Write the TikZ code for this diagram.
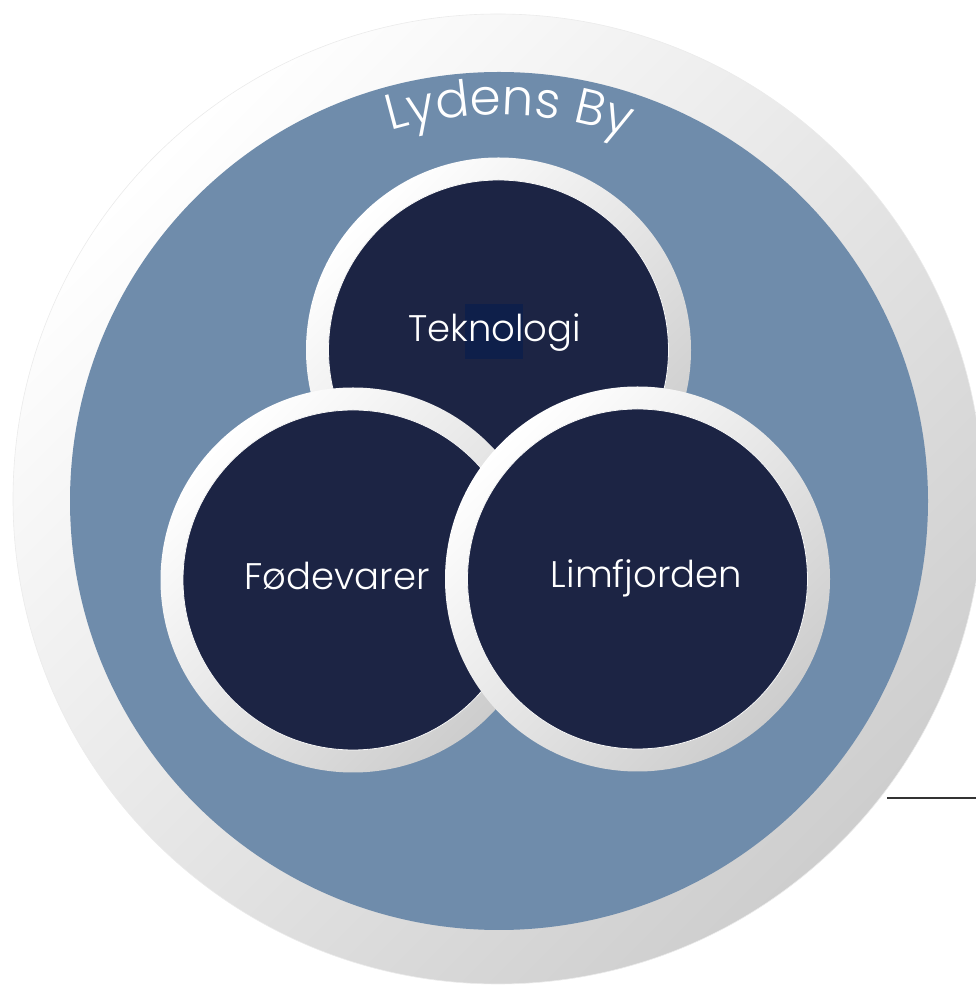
\documentclass[tikz,border=0pt]{standalone}
\usepackage{fontspec}
\newfontfamily\pop{Poppins Light}
\usetikzlibrary{decorations.text}
\definecolor{cityblue}{RGB}{111,140,171}
\definecolor{navy}{RGB}{28,36,68}
\definecolor{hilite}{RGB}{14,31,74}
\definecolor{ringgrey}{RGB}{205,205,205}
\definecolor{outergrey}{RGB}{206,206,206}
\begin{document}
\begin{tikzpicture}[x=1pt,y=1pt,
  ringnode/.style={circle, inner sep=0pt, minimum size=385pt, top color=white, bottom color=ringgrey, shading angle=45},
  corenode/.style={circle, inner sep=0pt, minimum size=340pt, fill=navy, draw=white!85!ringgrey, line width=0.8pt},
  lbl/.style={text=white, font=\pop\fontsize{37}{37}\selectfont, anchor=base, inner sep=0pt}
]
\useasboundingbox (0,0) rectangle (976,985);
\clip (0,0) rectangle (976,985);
\node[circle, inner sep=0pt, minimum size=970pt, top color=white, bottom color=outergrey, shading angle=45, draw=black!8, line width=0.6pt] (outer) at (498,486) {};
\node[circle, inner sep=0pt, minimum size=858pt, fill=cityblue] (city) at (499,484) {};
\path[decorate, decoration={text along path, text align=center, text color=white, text={|\pop\fontsize{50}{50}\selectfont|Lydens By}}] ([shift={(128.5:386)}]city.center) arc[start angle=128.5, end angle=48.5, radius=386];
% Teknologi
\node[ringnode] (tekring) at (498.5,635) {};
\node[corenode] (tek) at (498.5,635) {};
\node[fill=hilite, minimum width=58pt, minimum height=55pt, inner sep=0pt] (hl) at (494,653.5) {};
\node[lbl] (tektxt) at (494.5,643) {Teknologi};
% Fodevarer
\node[ringnode] (fodring) at (353,405) {};
\node[corenode] (fod) at (353,405) {};
\node[lbl] (fodtxt) at (337,395) {Fødevarer};
% Limfjorden
\node[ringnode] (limring) at (637.5,406) {};
\node[corenode] (lim) at (637.5,406) {};
\node[lbl] (limtxt) at (646.5,397) {Limfjorden};
% line
\coordinate (lineA) at (887,187);
\coordinate (lineB) at (976,187);
\draw[line width=2.5pt, draw=black!80] (lineA) -- (lineB);
\end{tikzpicture}
\end{document}
